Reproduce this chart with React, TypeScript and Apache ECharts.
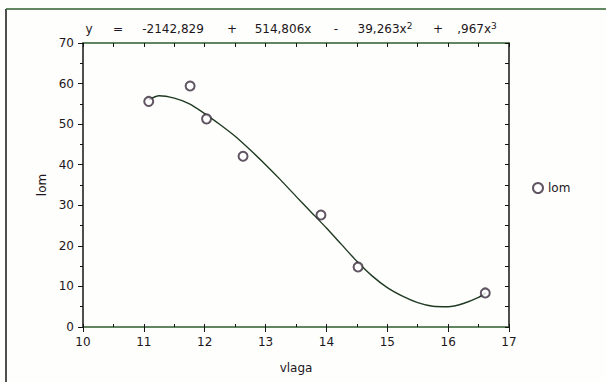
import React, { useEffect, useRef } from "react";
import * as echarts from "echarts";

const scatterX = [11.08, 11.76, 12.03, 12.63, 13.91, 14.52, 16.61];
const scatterY = [55.6, 59.4, 51.3, 42.1, 27.6, 14.8, 8.4];

const curveX = [11.08, 11.25, 11.5, 11.75, 12.0, 12.25, 12.5, 12.75, 13.0, 13.25, 13.5, 13.75, 14.0, 14.25, 14.5, 14.75, 15.0, 15.25, 15.5, 15.75, 16.0, 16.25, 16.5, 16.62];
const curveY = [56.0, 57.0, 56.4, 55.0, 52.6, 49.9, 47.0, 43.6, 40.0, 36.2, 32.2, 28.3, 24.4, 20.3, 16.2, 12.6, 9.7, 7.6, 6.0, 5.1, 5.0, 5.8, 7.3, 8.4];

const equationParts = ["y", "=", "-2142,829", "+", "514,806x", "-", "39,263x{s|2}", "+", ",967x{s|3}"];
const equationCenters = [89, 118, 173, 232, 283, 336, 385, 438, 477];

const seriesName = "lom";
const xName = "vlaga";
const yName = "lom";

const FONT = "DejaVu Sans";
const TEXT = "#1d1620";
const HLINE = "#2f5f2f";
const VLINE = "#151515";

export default function App() {
  const ref = useRef<HTMLDivElement>(null);
  useEffect(() => {
    if (!ref.current) return;
    const chart = echarts.init(ref.current, undefined, { renderer: "svg" });
    const eqGraphics = equationParts.map((t, i) => ({
      type: "text",
      x: equationCenters[i],
      y: 29,
      style: {
        text: t,
        fill: TEXT,
        font: `12px "${FONT}"`,
        align: "center",
        verticalAlign: "middle",
        rich: {
          s: { fontSize: 9, fontFamily: FONT, fill: TEXT, verticalAlign: "top", padding: [0, 0, 6, 0] },
        },
      },
    }));
    chart.setOption({
      animation: false,
      backgroundColor: "#fefefc",
      grid: { left: 83, right: 97, top: 43, bottom: 55, containLabel: false },
      legend: {
        left: 527,
        top: 177,
        orient: "vertical",
        data: [{ name: seriesName, icon: "emptyCircle" }],
        itemWidth: 10,
        itemHeight: 10,
        itemGap: 4,
        textStyle: { fontFamily: FONT, fontSize: 12, color: TEXT },
      },
      xAxis: [
        {
          type: "value",
          position: "bottom",
          min: 10,
          max: 17,
          interval: 1,
          name: xName,
          nameLocation: "middle",
          nameGap: 35,
          nameTextStyle: { fontFamily: FONT, fontSize: 12, color: TEXT },
          axisLine: { show: true, lineStyle: { color: HLINE, width: 1.5 } },
          axisTick: { show: true, inside: false, length: 5, lineStyle: { color: VLINE } },
          axisLabel: { margin: 9, fontFamily: FONT, fontSize: 12, color: TEXT },
          splitLine: { show: false },
        },
        {
          type: "value",
          position: "bottom",
          min: 10,
          max: 17,
          interval: 0.5,
          axisLine: { show: false },
          axisTick: { show: true, inside: true, length: 3, lineStyle: { color: VLINE } },
          axisLabel: { show: false },
          splitLine: { show: false },
        },
        {
          type: "value",
          position: "top",
          min: 10,
          max: 17,
          interval: 0.5,
          axisLine: { show: true, lineStyle: { color: HLINE, width: 1.5 } },
          axisTick: { show: true, inside: true, length: 4, lineStyle: { color: VLINE } },
          axisLabel: { show: false },
          splitLine: { show: false },
        },
      ],
      yAxis: [
        {
          type: "value",
          position: "left",
          min: 0,
          max: 70,
          interval: 10,
          name: yName,
          nameLocation: "middle",
          nameGap: 34,
          nameRotate: 90,
          nameTextStyle: { fontFamily: FONT, fontSize: 12, color: TEXT },
          axisLine: { show: true, lineStyle: { color: VLINE, width: 1.5 } },
          axisTick: { show: true, inside: false, length: 5, lineStyle: { color: VLINE } },
          minorTick: { show: true, splitNumber: 2, length: 3, lineStyle: { color: VLINE } },
          axisLabel: { margin: 9, fontFamily: FONT, fontSize: 12, color: TEXT },
          splitLine: { show: false },
        },
        {
          type: "value",
          position: "right",
          min: 0,
          max: 70,
          interval: 5,
          axisLine: { show: true, lineStyle: { color: VLINE, width: 1.5 } },
          axisTick: { show: true, inside: true, length: 4, lineStyle: { color: VLINE } },
          axisLabel: { show: false },
          splitLine: { show: false },
        },
      ],
      series: [
        {
          name: "fit",
          type: "line",
          xAxisIndex: 0,
          yAxisIndex: 0,
          data: curveX.map((x, i) => [x, curveY[i]]),
          smooth: 0.25,
          showSymbol: false,
          symbol: "none",
          lineStyle: { color: "#1f3a22", width: 1.4 },
          z: 2,
        },
        {
          name: seriesName,
          type: "scatter",
          xAxisIndex: 0,
          yAxisIndex: 0,
          data: scatterX.map((x, i) => [x, scatterY[i]]),
          symbol: "emptyCircle",
          symbolSize: 9,
          itemStyle: { color: "#3a2a3c", borderWidth: 1.3, borderColor: "#3a2a3c" },
          z: 3,
        },
      ],
      graphic: [
        {
          type: "line",
          shape: { x1: 6, y1: 9, x2: 6, y2: 382 },
          style: { stroke: VLINE, lineWidth: 1.5 },
        },
        {
          type: "line",
          shape: { x1: 6, y1: 9, x2: 606, y2: 9 },
          style: { stroke: HLINE, lineWidth: 1.5 },
        },
        ...eqGraphics,
      ],
    });
    return () => chart.dispose();
  }, []);
  return (
    <div
      ref={ref}
      style={{ position: "fixed", left: 0, top: 0, width: 606, height: 382 }}
    />
  );
}
